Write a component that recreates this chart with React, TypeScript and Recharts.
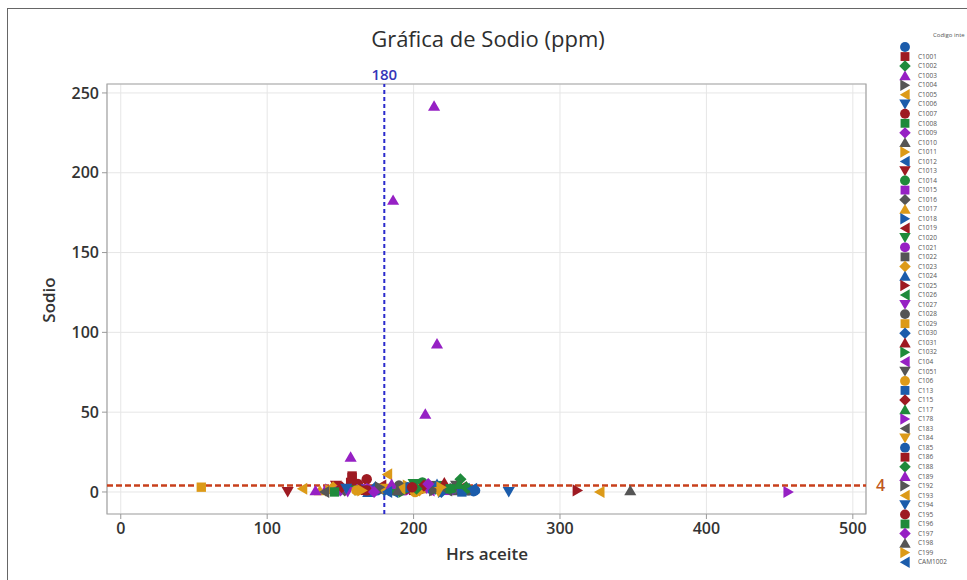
import React from 'react';
import {
  ScatterChart,
  Scatter,
  XAxis,
  YAxis,
  CartesianGrid,
  ReferenceLine,
  ReferenceArea,
} from 'recharts';

// Codigo interno (legend order)
const codigos: string[] = [
  '', 'C1001', 'C1002', 'C1003', 'C1004', 'C1005', 'C1006', 'C1007', 'C1008', 'C1009',
  'C1010', 'C1011', 'C1012', 'C1013', 'C1014', 'C1015', 'C1016', 'C1017', 'C1018', 'C1019',
  'C1020', 'C1021', 'C1022', 'C1023', 'C1024', 'C1025', 'C1026', 'C1027', 'C1028', 'C1029',
  'C1030', 'C1031', 'C1032', 'C104', 'C1051', 'C106', 'C113', 'C115', 'C117', 'C178',
  'C183', 'C184', 'C185', 'C186', 'C188', 'C189', 'C192', 'C193', 'C194', 'C195',
  'C196', 'C197', 'C198', 'C199', 'CAM1002',
];

// Hrs aceite per codigo
const hrsAceite: number[][] = [
  [238, 241, 175], [158, 157, 200], [232, 215, 190], [214, 186, 216, 208, 157, 198, 222, 140],
  [170, 228], [124, 182, 210], [180, 225], [168, 162, 205], [192, 218], [150, 203],
  [176, 230], [196, 143], [235, 186], [114, 147, 212], [206, 172], [164, 224],
  [208, 153], [188, 136], [220, 166], [178, 233], [200, 160], [194, 227],
  [184, 212], [204, 145], [216, 169], [312, 198], [226, 181], [155, 209],
  [190, 237], [55, 205], [174, 219], [163, 221], [193, 239], [148, 211],
  [183, 229], [201, 161], [213, 233], [151, 207], [187, 231], [456, 171],
  [223, 139], [179, 217], [242, 196], [167, 158], [202, 236], [185, 133],
  [214, 177], [327, 191], [265, 154], [199, 168], [225, 146], [173, 210],
  [348, 189], [219, 165], [240, 182],
];

// Sodio (ppm) per codigo
const sodio: number[][] = [
  [1, 0.5, 1], [9, 6, 1], [8, 2, 1], [242, 183, 93, 49, 22, 2, 3, 2],
  [1, 2], [2, 11, 3], [0, 1], [8, 5, 2], [2, 4], [1, 3],
  [2, 1], [4, 1], [2, 0], [0, 4, 1], [6, 1], [2, 1],
  [3, 1], [3, 1], [0, 2], [4, 3], [5, 1], [1, 2],
  [2, 4], [1, 3], [5, 0], [1, 2], [3, 1], [0, 2],
  [4, 1], [3, 2], [3, 0], [3, 6], [0, 2], [2, 1],
  [1, 4], [0, 1], [2, 0], [3, 4], [1, 5], [0, 2],
  [1, 0], [2, 0], [1, 3], [1, 10], [2, 3], [5, 1],
  [1, 3], [0, 2], [0, 2], [3, 1], [2, 0], [0, 5],
  [1, 1], [3, 1], [2, 0],
];

const xTicks = [0, 100, 200, 300, 400, 500];
const yTicks = [0, 50, 100, 150, 200, 250];

const colors = ['#1b5cab', '#9e1a22', '#1f8a3b', '#9620c4', '#555555', '#dc9a18'];
const shapes = ['circle', 'square', 'diamond', 'up', 'right', 'left', 'down'];

const X_DOMAIN: [number, number] = [-9.4, 509];
const Y_DOMAIN: [number, number] = [-13.8, 255.6];

function marker(kind: string, cx: number, cy: number, fill: string, s = 5.5) {
  switch (kind) {
    case 'circle':
      return <circle cx={cx} cy={cy} r={s * 0.95} fill={fill} />;
    case 'square':
      return <rect x={cx - s * 0.85} y={cy - s * 0.85} width={s * 1.7} height={s * 1.7} fill={fill} />;
    case 'diamond':
      return <polygon points={`${cx},${cy - s * 1.1} ${cx + s * 1.1},${cy} ${cx},${cy + s * 1.1} ${cx - s * 1.1},${cy}`} fill={fill} />;
    case 'up':
      return <polygon points={`${cx},${cy - s} ${cx + s * 1.1},${cy + s * 0.9} ${cx - s * 1.1},${cy + s * 0.9}`} fill={fill} />;
    case 'down':
      return <polygon points={`${cx},${cy + s} ${cx + s * 1.1},${cy - s * 0.9} ${cx - s * 1.1},${cy - s * 0.9}`} fill={fill} />;
    case 'right':
      return <polygon points={`${cx + s},${cy} ${cx - s * 0.9},${cy - s * 1.1} ${cx - s * 0.9},${cy + s * 1.1}`} fill={fill} />;
    default:
      return <polygon points={`${cx - s},${cy} ${cx + s * 0.9},${cy - s * 1.1} ${cx + s * 0.9},${cy + s * 1.1}`} fill={fill} />;
  }
}

const series = codigos.map((name, i) => ({
  name,
  color: colors[i % colors.length],
  kind: shapes[i % shapes.length],
  data: hrsAceite[i].map((h, j) => ({ hrs: h, sodio: sodio[i][j] })),
}));

const tickStyle = { fill: '#333', fontSize: 16, fontWeight: 600, fontFamily: 'Open Sans' };

const Legend = () => (
  <svg width={80} height={560} style={{ position: 'absolute', left: 890, top: 20 }}>
    <text x={43} y={17} fontSize={6} fill="#555" fontFamily="Open Sans">Codigo inte</text>
    {series.map((s, i) => {
      const y = 27 + i * 9.54;
      return (
        <g key={i}>
          {marker(s.kind, 15, y, s.color, 5.2)}
          <text x={28} y={y + 2.2} fontSize={6.5} fill="#555" fontFamily="Open Sans">{s.name}</text>
        </g>
      );
    })}
  </svg>
);

export default function App() {
  return (
    <div style={{ position: 'fixed', left: 0, top: 0, width: 967, height: 580, background: '#fff', overflow: 'hidden', fontFamily: 'Open Sans' }}>
      <div style={{ position: 'absolute', left: 7, top: 8, width: 980, height: 600, borderLeft: '1.5px solid #666', borderTop: '1.5px solid #666' }} />
      <div style={{ position: 'absolute', left: 0, top: 23, width: 976, textAlign: 'center', fontSize: 22, color: '#2e2e2e' }}>
        Gráfica de Sodio (ppm)
      </div>
      <div style={{ position: 'absolute', left: 107, top: 542, width: 760, textAlign: 'center', fontSize: 17, fontWeight: 600, color: '#333' }}>
        Hrs aceite
      </div>
      <div style={{ position: 'absolute', left: 48, top: 300, transform: 'translate(-50%, -50%) rotate(-90deg)', fontSize: 17, fontWeight: 600, color: '#333' }}>
        Sodio
      </div>
      <div style={{ position: 'absolute', left: 0, top: 0 }}>
        <ScatterChart width={967} height={580} margin={{ top: 84, right: 101, bottom: 36, left: 47 }}>
          <CartesianGrid stroke="#e6e6e6" />
          <XAxis
            type="number"
            dataKey="hrs"
            domain={X_DOMAIN}
            ticks={xTicks}
            allowDataOverflow
            height={30}
            axisLine={false}
            tickSize={5}
            tickMargin={4}
            tickLine={{ stroke: '#999' }}
            tick={tickStyle}
          />
          <YAxis
            type="number"
            dataKey="sodio"
            domain={Y_DOMAIN}
            ticks={yTicks}
            allowDataOverflow
            width={60}
            axisLine={false}
            tickSize={5}
            tickMargin={3}
            tickLine={{ stroke: '#999' }}
            tick={tickStyle}
          />
          <ReferenceArea
            x1={X_DOMAIN[0]}
            x2={X_DOMAIN[1]}
            y1={Y_DOMAIN[0]}
            y2={Y_DOMAIN[1]}
            fill="none"
            stroke="#a5a5a5"
            strokeWidth={1.2}
          />
          {series.map((s, i) => (
            <Scatter
              key={i}
              name={s.name}
              data={s.data}
              isAnimationActive={false}
              shape={(p: any) => marker(s.kind, p.cx, p.cy, s.color)}
            />
          ))}
          <ReferenceLine
            x={180}
            stroke="#2a2acc"
            strokeWidth={2}
            strokeDasharray="4 3"
            label={{ value: '180', position: 'top', fill: '#3535b8', fontSize: 15, fontFamily: 'Open Sans', fontWeight: 600, offset: 4 }}
          />
          <ReferenceLine
            y={4}
            stroke="#c8401c"
            strokeWidth={2.5}
            strokeDasharray="6 3"
            label={{ value: '4', position: 'right', fill: '#c0581c', fontSize: 16, fontFamily: 'Open Sans', fontWeight: 600, offset: 10 }}
          />
        </ScatterChart>
      </div>
      <Legend />
    </div>
  );
}
